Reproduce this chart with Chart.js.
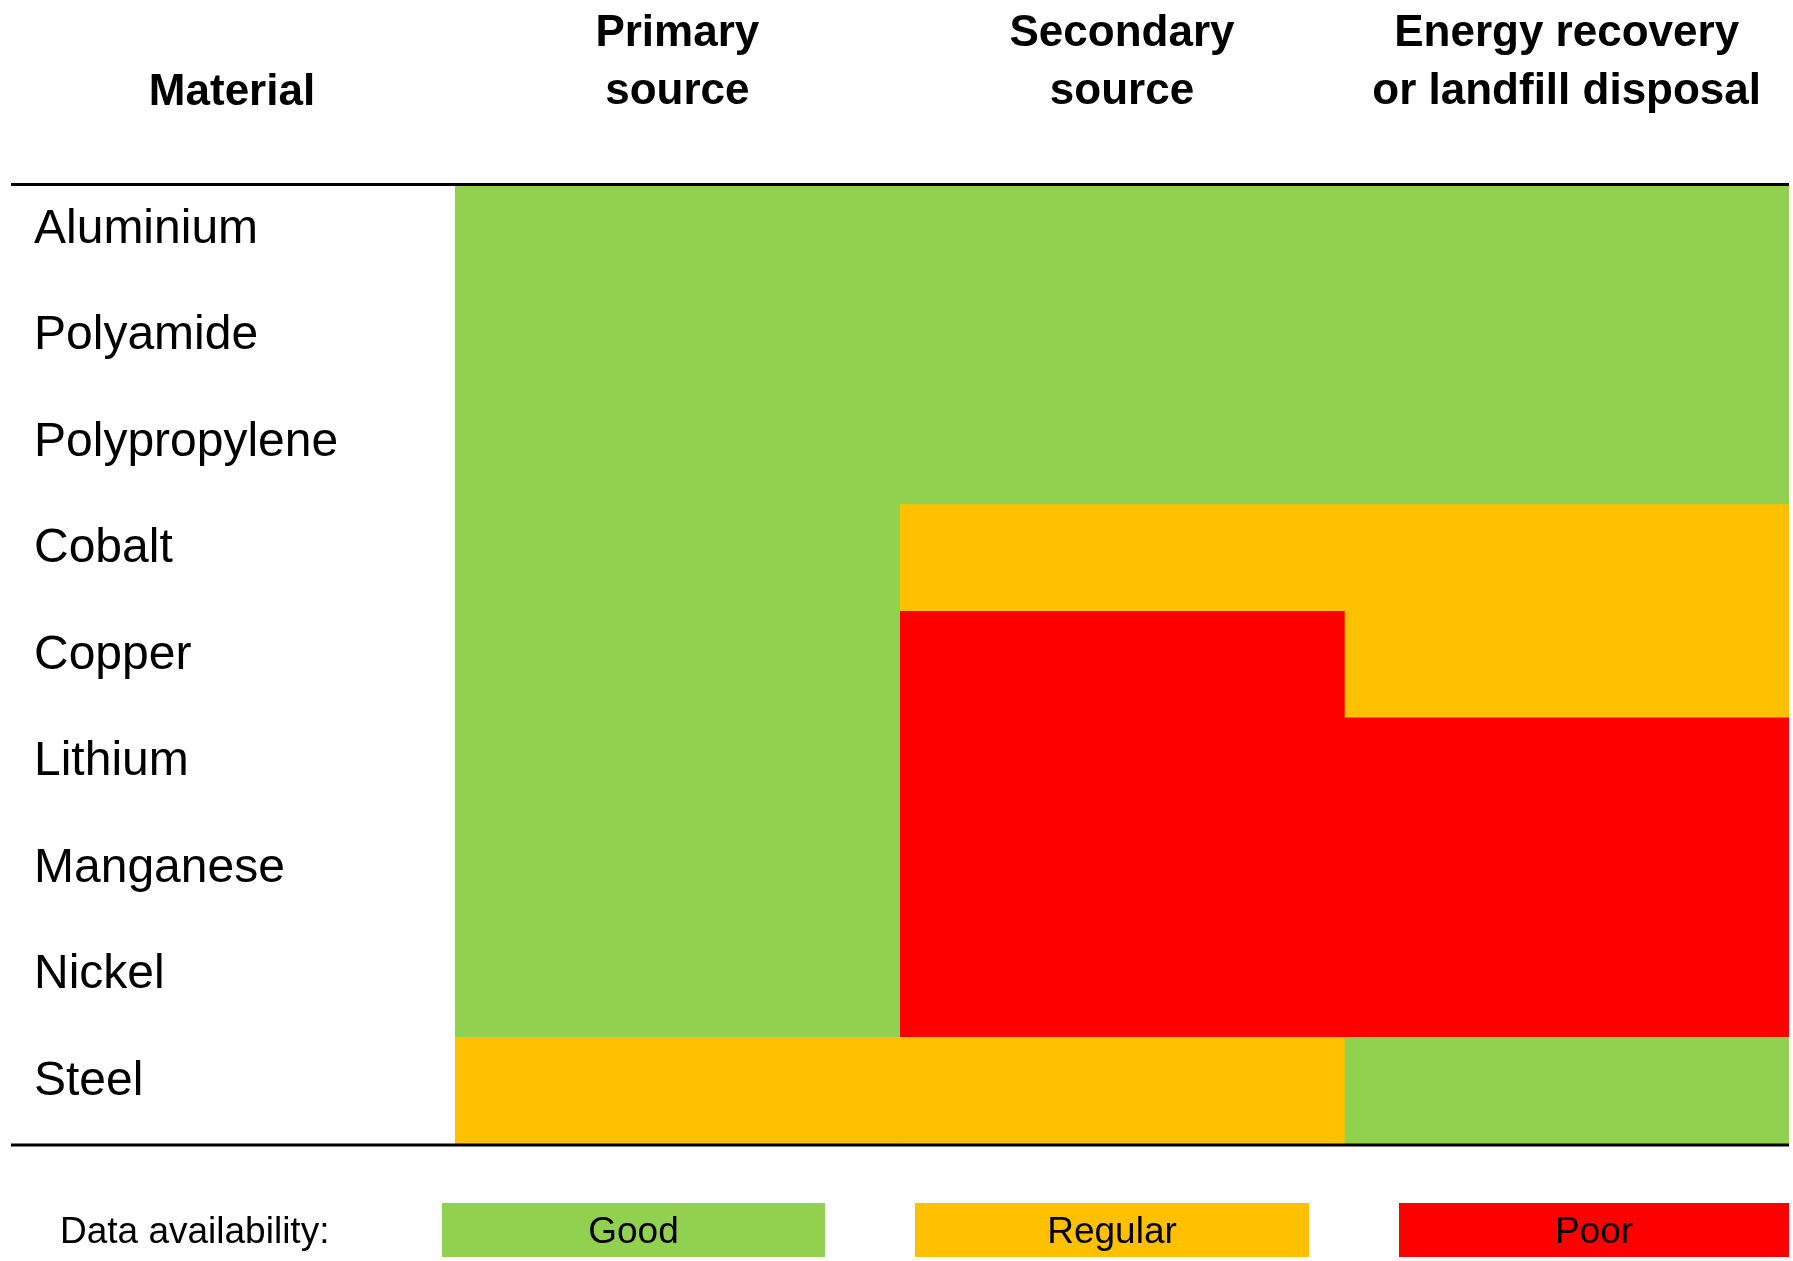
<!DOCTYPE html>
<html>
<head>
<meta charset="utf-8">
<script src="https://cdn.jsdelivr.net/npm/chart.js@4.4.1/dist/chart.umd.min.js"></script>
<style>
  html, body { margin: 0; padding: 0; background: #ffffff; }
  canvas { display: block; }
</style>
</head>
<body>
<canvas id="chart" width="1793" height="1261"></canvas>
<script>
// Materials (rows) and life-cycle stages (columns)
const materials = ['Aluminium', 'Polyamide', 'Polypropylene', 'Cobalt', 'Copper', 'Lithium', 'Manganese', 'Nickel', 'Steel'];
const stageLabels = [['Primary', 'source'], ['Secondary', 'source'], ['Energy recovery', 'or landfill disposal']];

// Data availability per material, one list per stage
const primarySource = ['Good', 'Good', 'Good', 'Good', 'Good', 'Good', 'Good', 'Good', 'Regular'];
const secondarySource = ['Good', 'Good', 'Good', 'Regular', 'Poor', 'Poor', 'Poor', 'Poor', 'Regular'];
const energyRecovery = ['Good', 'Good', 'Good', 'Regular', 'Regular', 'Poor', 'Poor', 'Poor', 'Good'];

// Availability levels shown in the key
const levels = ['Good', 'Regular', 'Poor'];
const levelColors = { Good: '#92D050', Regular: '#FFC000', Poor: '#FF0000' };

const FONT = '"Liberation Sans", Arial, Helvetica, sans-serif';
const stageRatings = [primarySource, secondarySource, energyRecovery];

// Each stage is one stacked segment of width 1 per material row
const datasets = stageRatings.map((ratings, i) => ({
  label: stageLabels[i].join(' '),
  data: ratings.map(() => 1),
  backgroundColor: ratings.map(r => levelColors[r]),
  borderWidth: 0,
  barPercentage: 1,
  categoryPercentage: 1
}));

// Horizontal rules above and below the grid, plus the header and the key
const tableDecor = {
  id: 'tableDecor',
  afterDraw(chart) {
    const { ctx, chartArea } = chart;
    ctx.save();
    ctx.strokeStyle = '#000000';
    ctx.lineWidth = 3;
    ctx.beginPath();
    ctx.moveTo(11, chartArea.top - 0.5);
    ctx.lineTo(1789, chartArea.top - 0.5);
    ctx.moveTo(11, chartArea.bottom + 1);
    ctx.lineTo(1789, chartArea.bottom + 1);
    ctx.stroke();

    // Row-label column header
    ctx.fillStyle = '#000000';
    ctx.font = 'bold 44px ' + FONT;
    ctx.textAlign = 'center';
    ctx.textBaseline = 'alphabetic';
    ctx.fillText('Material', 232, 105);

    // Key
    ctx.font = '37px ' + FONT;
    ctx.textAlign = 'left';
    ctx.fillText('Data availability:', 60, 1243);
    const boxes = [[442, 825], [915, 1309], [1399, 1789]];
    levels.forEach((lvl, i) => {
      const [x0, x1] = boxes[i];
      ctx.fillStyle = levelColors[lvl];
      ctx.fillRect(x0, 1203, x1 - x0, 54);
      ctx.fillStyle = '#000000';
      ctx.textAlign = 'center';
      ctx.fillText(lvl, (x0 + x1) / 2, 1243);
    });
    ctx.restore();
  }
};

new Chart(document.getElementById('chart'), {
  type: 'bar',
  data: { labels: materials, datasets },
  options: {
    indexAxis: 'y',
    responsive: false,
    animation: false,
    layout: { padding: { left: 34, right: 4, top: 0, bottom: 117 } },
    plugins: { legend: { display: false }, tooltip: { enabled: false } },
    scales: {
      x: {
        type: 'linear',
        position: 'top',
        stacked: true,
        min: 0,
        max: stageLabels.length,
        grid: { display: false, drawTicks: false },
        border: { display: false },
        afterBuildTicks(scale) {
          scale.ticks = stageLabels.map((_, i) => ({ value: i + 0.5 }));
        },
        afterFit(scale) {
          scale.height = 185;
          scale.paddingLeft = 0;
          scale.paddingRight = 0;
        },
        ticks: {
          autoSkip: false,
          maxRotation: 0,
          padding: 65,
          color: '#000000',
          font: { family: FONT, size: 44, weight: 'bold', lineHeight: 1.3 },
          callback: (value, index) => stageLabels[index]
        }
      },
      y: {
        type: 'category',
        stacked: true,
        grid: { display: false, drawTicks: false },
        border: { display: false },
        afterFit(scale) {
          scale.width = 421;
          scale.paddingTop = 0;
          scale.paddingBottom = 0;
        },
        ticks: {
          crossAlign: 'far',
          padding: 0,
          labelOffset: -9,
          color: '#000000',
          font: { family: FONT, size: 48 }
        }
      }
    }
  },
  plugins: [tableDecor]
});
</script>
</body>
</html>
